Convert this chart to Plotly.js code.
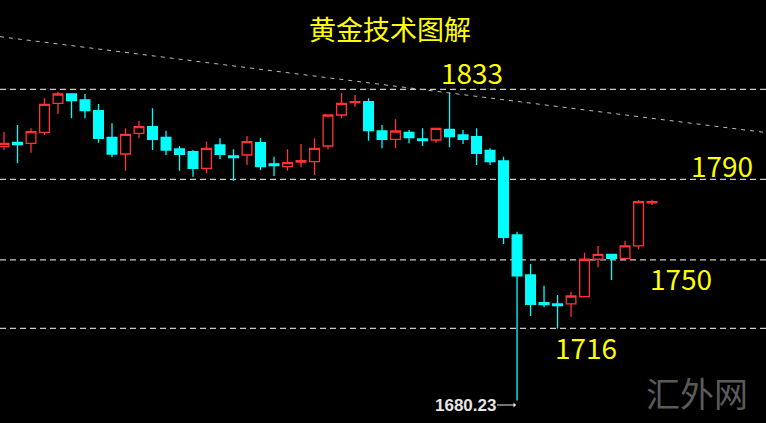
<!DOCTYPE html>
<html>
<head>
<meta charset="utf-8">
<script src="https://cdn.plot.ly/plotly-3.0.1.min.js"></script>
<style>
html,body{margin:0;padding:0;background:#000;}
#chart{width:766px;height:423px;}
</style>
</head>
<body>
<div id="chart"></div>
<script>
// ---- data ----
const openP = [1806.17,1808.26,1807.86,1813.31,1827.70,1832.31,1829.34,1824.03,1810.83,1802.55,1812.82,1816.09,1810.83,1805.03,1803.69,1795.46,1807.02,1801.56,1802.06,1808.16,1797.59,1796.25,1798.58,1798.73,1806.52,1821.90,1828.00,1828.49,1813.96,1809.84,1813.31,1809.99,1809.50,1814.80,1811.98,1811.13,1804.29,1799.08,1762.37,1742.53,1728.79,1728.15,1728.15,1731.77,1750.32,1752.80,1750.81,1756.92,1778.25];
const highP = [1813.61,1816.94,1815.30,1830.18,1833.45,1832.31,1832.31,1827.35,1817.78,1815.30,1819.07,1825.22,1814.11,1806.52,1804.54,1808.65,1810.34,1804.88,1811.48,1810.34,1801.21,1804.88,1807.51,1810.34,1821.90,1832.96,1831.82,1830.18,1816.94,1819.76,1814.46,1815.30,1815.30,1833.00,1814.46,1815.30,1805.38,1801.21,1764.01,1747.99,1737.22,1732.61,1734.25,1753.59,1756.92,1752.80,1759.55,1779.73,1779.88];
const lowP = [1804.54,1797.94,1803.20,1811.98,1822.39,1820.26,1820.26,1808.16,1800.91,1794.27,1810.34,1804.54,1802.06,1794.27,1791.29,1792.98,1799.92,1789.31,1797.09,1794.61,1791.64,1794.27,1795.95,1792.13,1804.88,1820.26,1826.01,1809.15,1805.38,1805.38,1807.86,1806.52,1808.16,1805.88,1807.51,1797.09,1797.09,1757.91,1680.23,1722.19,1726.51,1716.00,1721.85,1731.77,1746.35,1740.05,1750.81,1755.28,1777.25];
const closeP = [1807.86,1807.26,1813.61,1827.20,1832.31,1828.99,1824.03,1810.34,1802.55,1812.32,1816.09,1809.84,1804.54,1802.40,1795.46,1805.38,1802.40,1800.72,1808.65,1796.25,1796.85,1798.24,1799.23,1805.38,1821.90,1827.70,1828.49,1814.11,1809.84,1813.96,1810.64,1809.15,1815.30,1811.13,1809.84,1802.90,1798.73,1761.23,1742.04,1728.00,1727.80,1727.30,1732.11,1750.32,1752.80,1750.81,1756.92,1778.89,1778.89];
const barIndex = openP.map((_, i) => i);

const levelPrices = [1834.6, 1790, 1750, 1716];
const levelLabels = ["1833", "1790", "1750", "1716"];
const trendX = [-0.3, 56.5];
const trendY = [1860.74, 1813.12];
const lowLabel = "1680.23";
const lowBar = 38;
const titleText = "黄金技术图解";
const watermark = "汇外网";

// ---- chart ----
const W = 766, H = 423;
const px = x => x / W;
const py = y => 1 - y / H;

const candle = {
  type: 'candlestick',
  x: barIndex, open: openP, high: highP, low: lowP, close: closeP,
  increasing: {line: {color: '#ff3333', width: 1.3}, fillcolor: '#000000'},
  decreasing: {line: {color: '#00ffff', width: 1.3}, fillcolor: '#00ffff'},
  whiskerwidth: 0,
  hoverinfo: 'skip'
};
const trend = {
  type: 'scatter', mode: 'lines', x: trendX, y: trendY,
  line: {color: '#bdbdbd', width: 1, dash: '4px,5px'}, hoverinfo: 'skip'
};

const shapes = levelPrices.map(p => ({
  type: 'line', xref: 'paper', yref: 'y', x0: 0, x1: 1, y0: p, y1: p,
  line: {color: '#cccccc', width: 1.3, dash: '6px,4px'}, layer: 'below'
}));

const labelPos = [[471.7, 72.5], [722, 164.7], [681, 278], [586, 346.7]];
const yellowFont = {family: 'Noto Sans CJK SC, Noto Sans, sans-serif', size: 28, color: '#ffff00'};
const annotations = levelLabels.map((t, i) => ({
  text: t, xref: 'paper', yref: 'paper', x: px(labelPos[i][0]), y: py(labelPos[i][1]),
  xanchor: 'center', yanchor: 'middle', showarrow: false, font: yellowFont
}));
annotations.push({
  text: '<b>' + lowLabel + '</b>', xref: 'x', yref: 'paper', x: lowBar, y: py(405),
  showarrow: true, axref: 'pixel', ayref: 'pixel', ax: -52, ay: 0,
  arrowhead: 1, arrowsize: 0.7, arrowwidth: 1.2, arrowcolor: '#e6e6e6', standoff: 1,
  font: {family: 'Liberation Sans, Arial, sans-serif', size: 17, color: '#e6e6e6'}
});
annotations.push({
  text: watermark, xref: 'paper', yref: 'paper', x: px(697), y: py(392),
  xanchor: 'center', yanchor: 'middle', showarrow: false,
  font: {family: 'Noto Sans CJK SC, sans-serif', size: 34, color: '#5a5a5a'}
});

const layout = {
  width: W, height: H,
  margin: {l: 0, r: 0, t: 0, b: 0, pad: 0},
  paper_bgcolor: '#000000', plot_bgcolor: '#000000',
  showlegend: false,
  boxmode: 'overlay',
  boxgap: 0.28,
  boxgroupgap: 0,
  title: {text: titleText, x: px(390), xanchor: 'center', y: py(31), yanchor: 'middle',
          font: {family: 'Noto Sans CJK SC, sans-serif', size: 27, color: '#ffff00'}},
  xaxis: {range: [-0.296, 56.44], visible: false, showgrid: false, zeroline: false,
          rangeslider: {visible: false}, fixedrange: true},
  yaxis: {range: [1669.1, 1878.94], visible: false, showgrid: false, zeroline: false, fixedrange: true},
  shapes: shapes,
  annotations: annotations
};

Plotly.newPlot('chart', [trend, candle], layout, {displayModeBar: false, staticPlot: true});
</script>
</body>
</html>
